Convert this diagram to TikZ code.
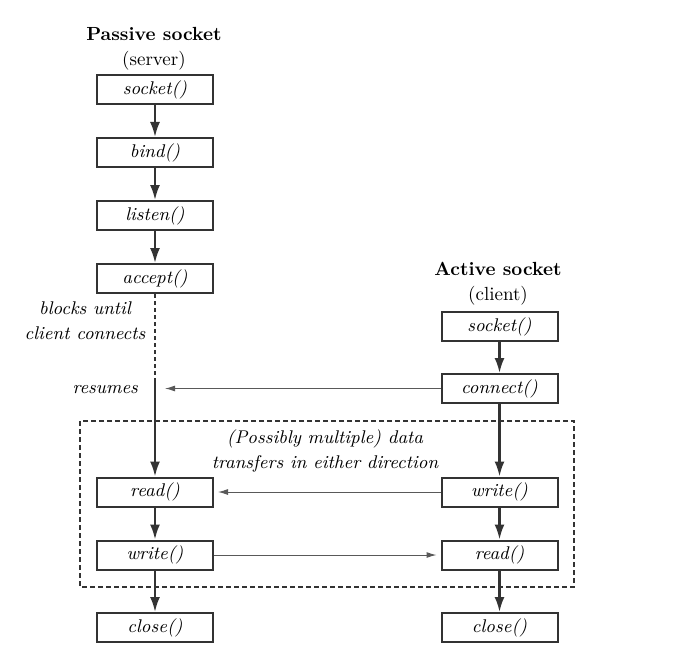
\documentclass[tikz,border=0pt]{standalone}
\usetikzlibrary{positioning,arrows.meta}
\begin{document}
\begin{tikzpicture}[
  x=0.5pt, y=-0.5pt,
  node distance=16pt and 1cm,
  call/.style={draw=black!80, line width=1pt, minimum width=58pt, minimum height=14.5pt, inner sep=0pt, font=\fontsize{9.2}{11}\selectfont\itshape},
  note/.style={align=center, font=\fontsize{9.2}{12.5}\selectfont\itshape},
  head/.style={align=center, font=\fontsize{9.5}{12.5}\selectfont},
  flow/.style={draw=black!80, line width=1.1pt, -{Latex[length=7.5pt,width=5pt]}},
  msg/.style={draw=black!65, line width=0.5pt, shorten >=2pt, -{Latex[length=5pt,width=3pt]}},
  wait/.style={draw=black!80, line width=1.1pt, dash pattern=on 2pt off 1.5pt},
  frame/.style={draw=black!80, line width=0.8pt, dash pattern=on 2.5pt off 1.5pt}
]
\useasboundingbox (0,0) rectangle (678,663);

% server side
\node[head] (shead) at (154,48.5) {\textbf{Passive socket}\\(server)};
\node[call] (ssocket) at (155,89.5) {socket()};
\node[call,below=of ssocket] (sbind) {bind()};
\node[call,below=of sbind] (slisten) {listen()};
\node[call,below=of slisten] (saccept) {accept()};
\node[call] (sread) at (155,492) {read()};
\node[call,below=of sread] (swrite) {write()};
\node[call,below=20.75pt of swrite] (sclose) {close()};

% client side
\node[head] (chead) at (498,284) {\textbf{Active socket}\\(client)};
\node[call] (csocket) at (499.5,326.5) {socket()};
\node[call,below=15.5pt of csocket] (cconnect) {connect()};
\node[call] (cwrite) at (499.5,492) {write()};
\node[call,below=of cwrite] (cread) {read()};
\node[call,below=20.75pt of cread] (cclose) {close()};

% notes
\node[note] (blocks) at (85,320.5) {blocks until\\client connects};
\node[note,anchor=east] (resumes) at (145,390) {resumes};
\node[note] (xfer) at (325,450.5) {(Possibly multiple) data\\transfers in either direction};

\draw[frame] (80,421) rectangle (574,587);

\coordinate (resume) at (155,381);
\coordinate (resumetip) at ([xshift=3pt]resume |- cconnect);

\path
% server flow
(ssocket) edge[flow] (sbind)
(sbind) edge[flow] (slisten)
(slisten) edge[flow] (saccept)
(saccept) edge[wait] (resume)
(resume) edge[flow] (sread)
(sread) edge[flow] (swrite)
(swrite) edge[flow] (sclose)

% client flow
(csocket) edge[flow] (cconnect)
(cconnect) edge[flow] (cwrite)
(cwrite) edge[flow] (cread)
(cread) edge[flow] (cclose)

% messages
(cconnect) edge[msg] (resumetip)
(cwrite) edge[msg] (sread)
(swrite) edge[msg] (cread)
;

\end{tikzpicture}
\end{document}
